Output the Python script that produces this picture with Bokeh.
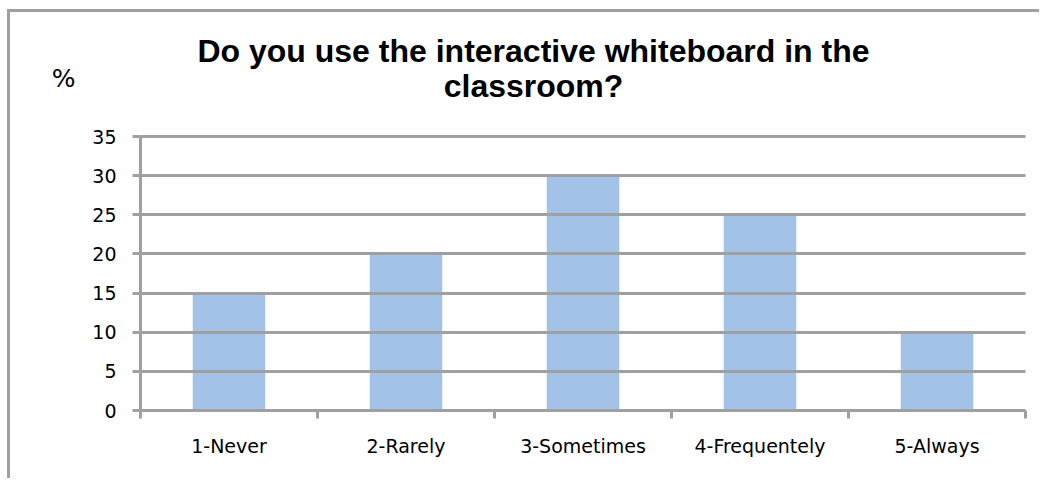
import numpy as np
from bokeh.plotting import figure
from bokeh.models import ColumnDataSource, FixedTicker, Range1d, Label, LinearAxis
from bokeh.embed import file_html
from bokeh.resources import INLINE

categories = ["1-Never", "2-Rarely", "3-Sometimes", "4-Frequentely", "5-Always"]
values = [15, 20, 30, 25, 10]
y_ticks = [0, 5, 10, 15, 20, 25, 30, 35]
title_lines = ["Do you use the interactive whiteboard in the", "classroom?"]
y_unit = "%"

GRAY = "#a0a0a0"
BAR = "#a3c2e7"

n = len(categories)
centers = [i + 0.5 for i in range(n)]
bounds = list(range(n + 1))
y_max = y_ticks[-1]

W, H = 1032, 469
BORDER_L, BORDER_B = 130, 71
frame_h = H - BORDER_B
data_h_px = 274  # pixel height of the 0..35 part of the frame
y_top = y_max * frame_h / data_h_px
ppu = data_h_px / y_max  # pixels per unit

source = ColumnDataSource(dict(x=centers, top=values, cat=categories))

p = figure(width=W, height=H, output_backend="svg", toolbar_location=None,
           x_range=Range1d(0, n), y_range=Range1d(0, y_top),
           min_border_left=BORDER_L, min_border_right=17, min_border_top=0,
           min_border_bottom=BORDER_B)
p.styles = {"margin-left": "7px", "margin-top": "9px",
            "border-left": "3px solid #a0a0a0", "border-top": "3px solid #a0a0a0"}
p.outline_line_color = None
p.background_fill_color = "white"
p.border_fill_color = "white"

p.vbar(x="x", top="top", bottom=0, width=0.41, source=source,
       fill_color=BAR, line_color=None)

# grid
p.xgrid.visible = False
p.ygrid.ticker = FixedTicker(ticks=y_ticks)
p.ygrid.grid_line_color = GRAY
p.ygrid.grid_line_width = 3
p.ygrid.level = "overlay"

# y axis
ya = p.yaxis[0]
ya.ticker = FixedTicker(ticks=y_ticks)
ya.bounds = (0, y_max)
ya.axis_line_color = GRAY
ya.axis_line_width = 3
ya.major_tick_line_color = GRAY
ya.major_tick_line_width = 3
ya.major_tick_out = 8
ya.major_tick_in = 0
ya.minor_tick_line_color = None
ya.major_label_standoff = 16
ya.major_label_text_font = "DejaVu Sans"
ya.major_label_text_font_size = "19px"
ya.major_label_text_color = "black"

# unit label "%" as a second, line-less axis further left
unit_pos = (410 - 78) / ppu
ua = LinearAxis(ticker=FixedTicker(ticks=[unit_pos]),
                major_label_overrides={unit_pos: y_unit},
                axis_line_color=None, major_tick_line_color=None,
                minor_tick_line_color=None, major_tick_out=0, major_tick_in=0,
                major_label_standoff=14, major_label_text_font="DejaVu Sans",
                major_label_text_font_size="25px", major_label_text_color="black")
p.add_layout(ua, "left")

# x axis
xa = p.xaxis[0]
xa.ticker = FixedTicker(ticks=centers, minor_ticks=bounds)
xa.major_label_overrides = {c: lab for c, lab in zip(centers, categories)}
xa.axis_line_color = GRAY
xa.axis_line_width = 3
xa.major_tick_line_color = None
xa.major_tick_out = 0
xa.major_tick_in = 0
xa.minor_tick_line_color = GRAY
xa.minor_tick_line_width = 3
xa.minor_tick_out = 8
xa.minor_tick_in = 0
xa.major_label_standoff = 16
xa.major_label_text_font = "DejaVu Sans"
xa.major_label_text_font_size = "19px"
xa.major_label_text_color = "black"

# title lines (inside the upper, empty part of the frame)
for txt, base_px in zip(title_lines, [50, 85]):
    p.add_layout(Label(x=(533 - 140) / 177, y=(410 - base_px) / ppu, text=txt,
                       text_align="center", text_baseline="alphabetic",
                       text_font="Liberation Sans", text_font_style="bold",
                       text_font_size="32px", text_color="black"))

open("out.html", "w").write(file_html(p, INLINE))
